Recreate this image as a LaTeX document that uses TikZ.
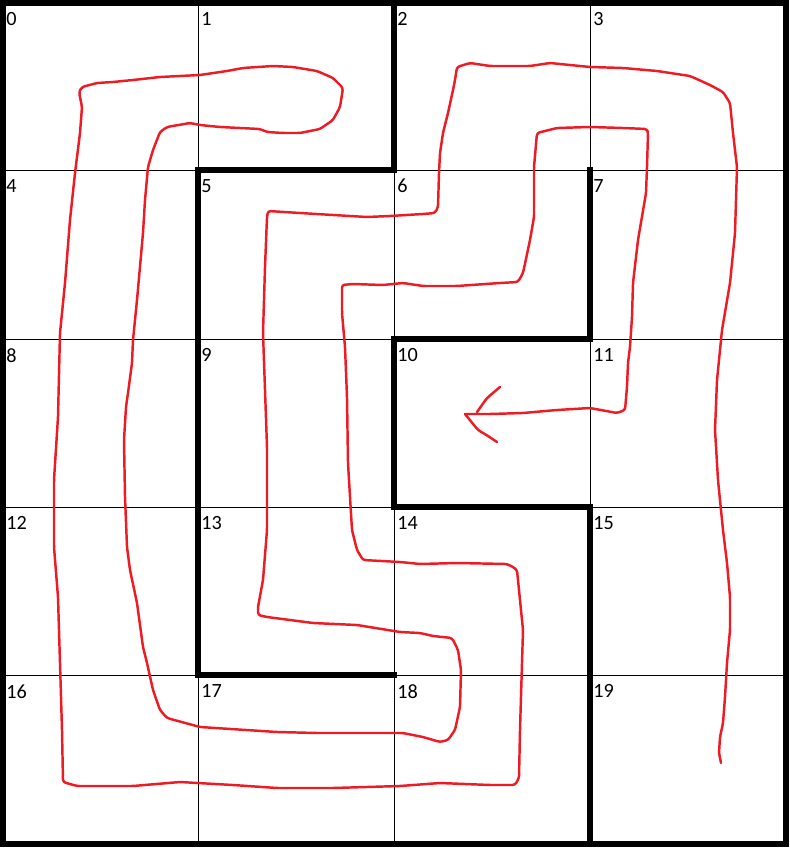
\documentclass[tikz,border=0pt]{standalone}
\usepackage{fontspec}
\setmainfont{Carlito}
\definecolor{trazoRojo}{HTML}{ED1C24}

\begin{document}
\begin{tikzpicture}[x=0.02cm, y=-0.02cm,
    thin grid/.style={line width=0.5pt, black},
    wall/.style={line width=3.4pt, black, line cap=rect},
    trazo/.style={trazoRojo, line width=1.4pt, line join=round, line cap=round, rounded corners=1.5pt},
    celda/.style={anchor=north west, inner sep=0pt, font=\fontsize{11.5}{13}\selectfont}]
    \useasboundingbox (0,0) rectangle (790,848);
    % grid
    \foreach \x in {198,394,590} \draw[thin grid] (\x,3) -- (\x,844);
    \foreach \y in {170,339,507,675} \draw[thin grid] (3,\y) -- (786,\y);
    % cell numbers
    \foreach \i in {0,...,19} {
      \pgfmathtruncatemacro{\col}{mod(\i,4)}
      \pgfmathtruncatemacro{\row}{int(\i/4)}
      \pgfmathsetmacro{\cx}{{3,198,394,590}[\col]}
      \pgfmathsetmacro{\cy}{{3,170,339,507,675}[\row]}
      \node[celda] (c\i) at (\cx+3,\cy+9) {\i};
    }
    % walls
    \draw[wall] (3,3) rectangle (786,844);
    \draw[wall] (394,3) -- (394,170) -- (198,170) -- (198,675) -- (394,675);
    \draw[wall] (590,170) -- (590,339) -- (394,339) -- (394,507) -- (590,507) -- (590,844);
    % hand drawn route
    \draw[trazo] (721,763) -- (719,753) -- (720,737) -- (723,723) -- (725,697) -- (727,663)
      -- (730,630) -- (730,597) -- (727,563) -- (723,530) -- (718,480) -- (715,430)
      -- (717,380) -- (722,330) -- (730,283) -- (735,233) -- (737,167) -- (733,133)
      -- (730,103) -- (723,92) -- (710,85) -- (690,76) -- (657,71) -- (623,68)
      -- (590,67) -- (550,63) -- (530,66) -- (490,66) -- (470,63) -- (457,67)
      -- (455,80) -- (453,90) -- (448,113) -- (443,133) -- (440,153) -- (439,173)
      -- (438,207) -- (435,213) -- (423,214) -- (390,216) -- (367,217) -- (333,215)
      -- (300,213) -- (268,211) -- (267,217) -- (265,267) -- (263,333) -- (267,447)
      -- (267,530) -- (263,580) -- (258,607) -- (258,615) -- (267,617) -- (313,623)
      -- (357,625) -- (400,632) -- (420,633) -- (433,636) -- (452,638) -- (458,650)
      -- (461,670) -- (460,707) -- (455,730) -- (448,740) -- (440,742) -- (423,737)
      -- (403,733) -- (317,733) -- (277,732) -- (200,727) -- (167,718) -- (160,710)
      -- (153,690) -- (147,663) -- (143,647) -- (137,603) -- (130,570) -- (127,547)
      -- (125,497) -- (124,440) -- (126,407) -- (128,393) -- (132,363) -- (133,340)
      -- (137,300) -- (143,233) -- (145,200) -- (148,167) -- (153,150) -- (160,132)
      -- (167,127) -- (190,123) -- (200,125) -- (220,127) -- (260,129) -- (267,132)
      -- (283,133) -- (300,133) -- (320,129) -- (333,120) -- (340,107) -- (343,88)
      -- (333,78) -- (317,71) -- (293,67) -- (273,66) -- (243,68) -- (227,71)
      -- (200,75) -- (160,77) -- (133,80) -- (113,82) -- (97,83) -- (82,87)
      -- (79,92) -- (82,107) -- (80,133) -- (75,173) -- (70,220) -- (65,283)
      -- (60,333) -- (58,417) -- (54,480) -- (54,547) -- (58,597) -- (60,663)
      -- (62,730) -- (63,782) -- (77,786) -- (133,786) -- (180,782) -- (233,785)
      -- (277,788) -- (333,788) -- (400,786) -- (440,783) -- (490,785) -- (515,785)
      -- (519,778) -- (520,730) -- (522,663) -- (523,630) -- (520,600) -- (517,570)
      -- (513,567) -- (507,564) -- (457,563) -- (420,564) -- (400,562) -- (363,560)
      -- (357,550) -- (352,530) -- (350,497) -- (348,463) -- (347,397) -- (345,347)
      -- (342,313) -- (342,285) -- (353,284) -- (383,285) -- (403,283) -- (423,286)
      -- (457,286) -- (500,283) -- (518,282) -- (523,273) -- (530,240) -- (534,217)
      -- (534,167) -- (537,133) -- (557,128) -- (590,127) -- (623,128) -- (647,129)
      -- (648,133) -- (647,167) -- (646,193) -- (638,240) -- (633,283) -- (632,317)
      -- (630,347) -- (628,363) -- (627,387) -- (625,410) -- (617,413) -- (590,408)
      -- (557,410) -- (523,413) -- (490,414) -- (465,414);
    % arrow head
    \draw[trazo] (477,412) -- (487,398) -- (500,387);
    \draw[trazo] (465,414) -- (478,430) -- (488,436) -- (497,442);
\end{tikzpicture}
\end{document}
